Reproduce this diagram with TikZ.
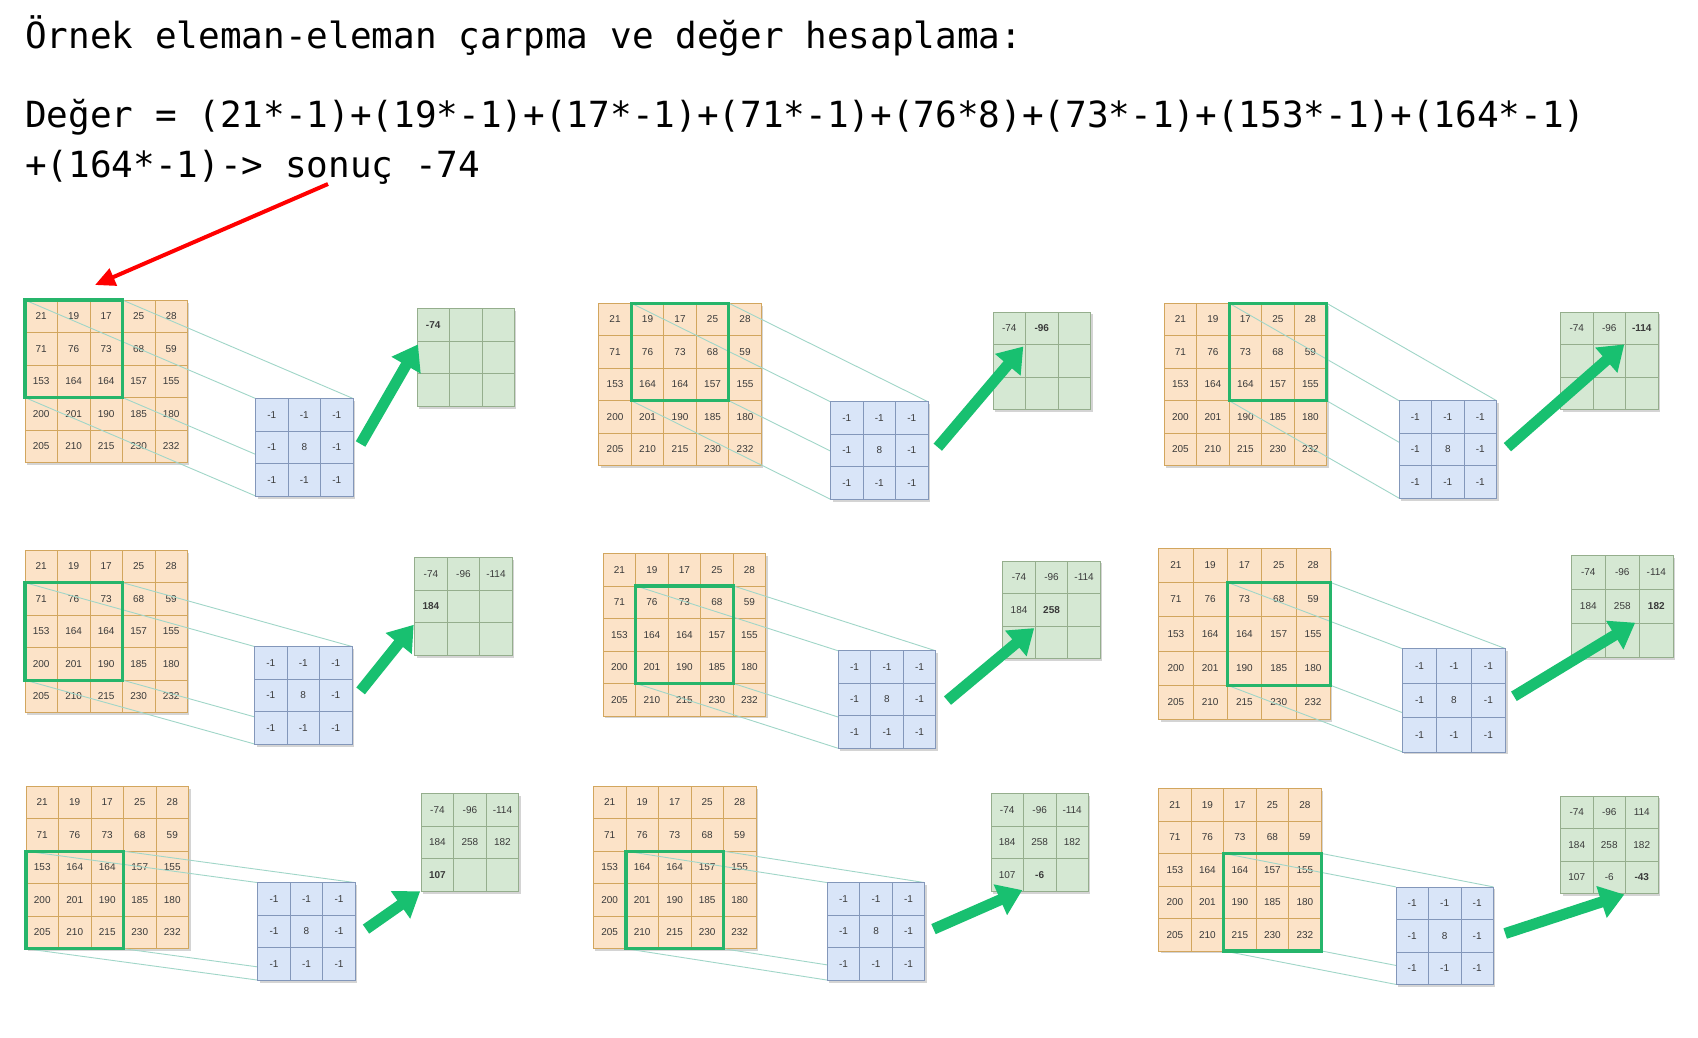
\documentclass[tikz,border=0pt]{standalone}
\usepackage{fontspec}
\usetikzlibrary{arrows.meta}
\newfontfamily\monofont{DejaVu Sans Mono}
\newfontfamily\cellfont{Liberation Sans}
\definecolor{ofill}{HTML}{FCE3C8}
\definecolor{odraw}{HTML}{D2A65E}
\definecolor{kfill}{HTML}{D9E5F8}
\definecolor{kdraw}{HTML}{8397BA}
\definecolor{pfill}{HTML}{D5E8D3}
\definecolor{pdraw}{HTML}{95AE8D}
\definecolor{hlc}{HTML}{26B56B}
\definecolor{arrc}{HTML}{18C070}
\definecolor{linkc}{HTML}{A0D6C8}
\definecolor{txtc}{HTML}{3A3A3A}
\tikzset{
  title/.style={anchor=base west, inner sep=0pt, font=\monofont\fontsize{36}{40}\selectfont},
  cellbase/.style={line width=0.8pt, minimum width=#1, minimum height=#1, inner sep=0pt,
    font=\cellfont\fontsize{10}{11}\selectfont, text=txtc},
  ocell/.style={cellbase=#1, draw=odraw, fill=ofill},
  kcell/.style={cellbase=#1, draw=kdraw, fill=kfill},
  pcell/.style={cellbase=#1, draw=pdraw, fill=pfill},
  shadowbox/.style={fill=black!30, opacity=0.55},
  hl/.style={draw=hlc, line width=3.2pt},
  link/.style={draw=linkc, line width=0.9pt},
  bigarrow/.style={draw=arrc, line width=11pt, -{Triangle[length=24pt,width=32pt]}},
  redarrow/.style={draw=red, line width=4pt, -{Triangle[length=20pt,width=18pt]}},
}
\begin{document}
\begin{tikzpicture}[x=1pt,y=-1pt]
\useasboundingbox[fill=white] (0,0) rectangle (1698,1038);
\node[title] (t1) at (25,48.7) {Örnek eleman-eleman çarpma ve değer hesaplama:};
\node[title] (t2) at (25,127.8) {Değer = (21*-1)+(19*-1)+(17*-1)+(71*-1)+(76*8)+(73*-1)+(153*-1)+(164*-1)};
\node[title] (t3) at (25,177.6) {+(164*-1)-> sonuç -74};
\coordinate (rs) at (328,184);
\coordinate (re) at (95,285);
\draw[redarrow] (rs) -- (re);

\foreach \id/\ox/\oy/\oc/\hr/\hc/\kx/\ky/\kc/\px/\py/\pc/\axa/\aya/\axb/\ayb/\kk in {
 p1/24.9/300.0/32.5/0/0/255.6/398.5/32.5/416.9/308.6/32.5/360.6/444.0/418.0/344.4/1,
 p2/598.8/303.2/32.5/0/1/830.6/401.8/32.5/993.0/311.9/32.5/937.8/447.2/1023.3/346.5/2,
 p3/1164.1/303.2/32.5/0/2/1399.1/400.7/32.5/1560.5/311.9/32.5/1507.4/447.2/1624.3/344.4/3,
 p4/24.9/550.1/32.5/1/0/254.5/646.5/32.5/414.7/557.7/32.5/360.6/690.9/413.7/624.8/4,
 p5/603.2/553.4/32.5/1/1/838.2/650.8/32.5/1002.8/560.9/32.5/947.5/700.6/1034.2/628.1/5,
 p6/1158.7/548.0/34.3/1/2/1402.4/648.7/34.4/1571.3/555.5/34/1513.9/696.3/1635.2/622.7/6,
 p7/26.0/786.2/32.5/2/0/257.7/882.6/32.5/421.2/793.8/32.5/366.0/929.1/420.2/891.2/7,
 p8/593.4/786.2/32.5/2/1/827.3/882.6/32.5/990.9/793.8/32.5/933.5/929.1/1022.3/890.1/8,
 p9/1158.7/788.4/32.5/2/2/1395.9/886.9/32.5/1560.5/795.9/32.5/1505.2/933.5/1624.3/894.5/9}{
  % input grid
  \fill[shadowbox] ({\ox+2},{\oy+2.5}) rectangle ++({5*\oc},{5*\oc});
  \foreach \val [count=\n from 0] in {21,19,17,25,28,71,76,73,68,59,153,164,164,157,155,200,201,190,185,180,205,210,215,230,232}{
    \pgfmathtruncatemacro\rr{\n/5}
    \pgfmathtruncatemacro\cc{\n-5*\rr}
    \node[ocell=\oc] (\id-o-\n) at ({\ox+(\cc+0.5)*\oc},{\oy+(\rr+0.5)*\oc}) {\val};
  }
  % highlight and kernel corners
  \coordinate (\id-hNW) at ({\ox+\hc*\oc},{\oy+\hr*\oc});
  \coordinate (\id-hNE) at ({\ox+(\hc+3)*\oc},{\oy+\hr*\oc});
  \coordinate (\id-hSW) at ({\ox+\hc*\oc},{\oy+(\hr+3)*\oc});
  \coordinate (\id-hSE) at ({\ox+(\hc+3)*\oc},{\oy+(\hr+3)*\oc});
  \coordinate (\id-kNW) at (\kx,\ky);
  \coordinate (\id-kNE) at ({\kx+3*\kc},\ky);
  \coordinate (\id-kSW) at (\kx,{\ky+3*\kc});
  \coordinate (\id-kSE) at ({\kx+3*\kc},{\ky+3*\kc});
  \draw[link] (\id-hNW) -- (\id-kNW);
  \draw[link] (\id-hNE) -- (\id-kNE);
  \draw[link] (\id-hSW) -- (\id-kSW);
  \draw[link] (\id-hSE) -- (\id-kSE);
  \draw[hl] (\id-hNW) rectangle (\id-hSE);
  % kernel
  \fill[shadowbox] ({\kx+2},{\ky+2.5}) rectangle ++({3*\kc},{3*\kc});
  \foreach \val [count=\n from 0] in {-1,-1,-1,-1,8,-1,-1,-1,-1}{
    \pgfmathtruncatemacro\rr{\n/3}
    \pgfmathtruncatemacro\cc{\n-3*\rr}
    \node[kcell=\kc] (\id-k-\n) at ({\kx+(\cc+0.5)*\kc},{\ky+(\rr+0.5)*\kc}) {\val};
  }
  % output
  \fill[shadowbox] ({\px+2},{\py+2.5}) rectangle ++({3*\pc},{3*\pc});
  \foreach \val [count=\n from 1] in {-74,-96,-114,184,258,182,107,-6,-43}{
    \pgfmathtruncatemacro\rr{(\n-1)/3}
    \pgfmathtruncatemacro\cc{\n-1-3*\rr}
    \ifnum\n>\kk\relax \def\tv{}\else\def\tv{\val}\fi
    \ifnum\n=\kk\relax \def\tv{\textbf{\val}}\fi
    \ifnum\kk=9\relax\ifnum\n=3\relax \def\tv{114}\fi\fi
    \node[pcell=\pc] (\id-p-\n) at ({\px+(\cc+0.5)*\pc},{\py+(\rr+0.5)*\pc}) {\tv};
  }
  % green arrow
  \coordinate (\id-as) at (\axa,\aya);
  \coordinate (\id-ae) at (\axb,\ayb);
  \draw[bigarrow] (\id-as) -- (\id-ae);
}
\end{tikzpicture}
\end{document}
